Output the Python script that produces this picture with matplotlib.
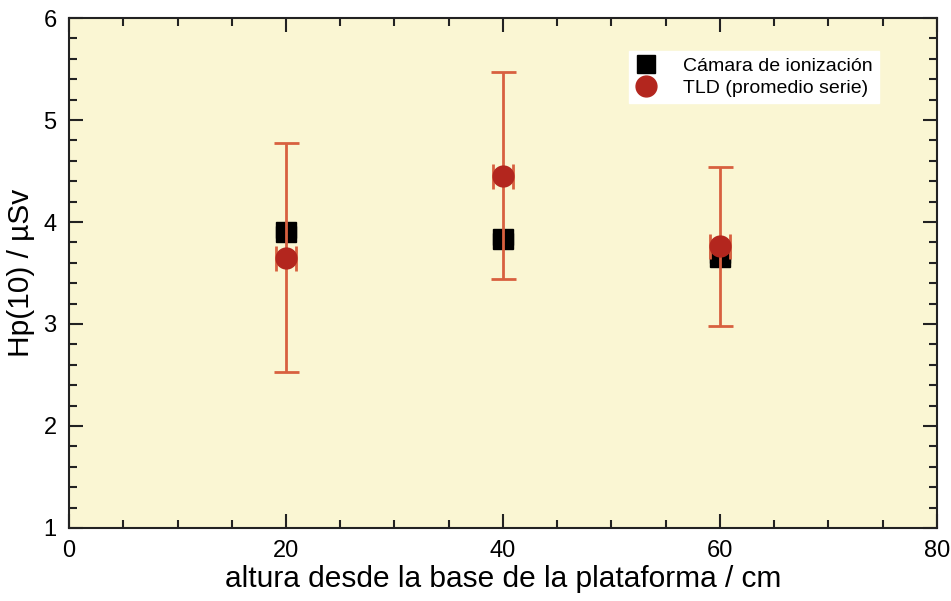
import matplotlib
matplotlib.use('Agg')
import matplotlib.pyplot as plt
from matplotlib.ticker import MultipleLocator
from matplotlib.lines import Line2D

# Daten
altura = [20, 40, 60]
camara = [3.90, 3.83, 3.66]
tld = [3.65, 4.45, 3.76]
tld_sup = [4.77, 5.47, 4.54]
tld_inf = [2.53, 3.44, 2.98]
x_err = [0.9, 0.9, 0.9]

plt.rcParams['font.family'] = ['Liberation Sans', 'DejaVu Sans']

fig = plt.figure(figsize=(9.51, 6.01), dpi=100)
ax = fig.add_axes([0.0726, 0.1215, 0.9124, 0.8485])
ax.set_facecolor('#FAF6D3')

err_color = '#D8603F'
tld_color = '#B3261E'
tld_err = [[t - lo for t, lo in zip(tld, tld_inf)],
           [hi - t for t, hi in zip(tld, tld_sup)]]

ax.errorbar(altura, camara, xerr=x_err, fmt='s', color='black', ms=14,
            ecolor='#333333', elinewidth=1, capsize=4, capthick=1, zorder=3)
ax.errorbar(altura, tld, yerr=tld_err, xerr=x_err, fmt='o', color=tld_color,
            ms=15, ecolor=err_color, elinewidth=2, capsize=9, capthick=2, zorder=4)

ax.set_xlim(0, 80)
ax.set_ylim(1, 6)
ax.xaxis.set_major_locator(MultipleLocator(20))
ax.xaxis.set_minor_locator(MultipleLocator(5))
ax.yaxis.set_major_locator(MultipleLocator(1))
ax.yaxis.set_minor_locator(MultipleLocator(0.2))
ax.tick_params(which='both', direction='in', top=True, right=True,
               color='#222222', labelsize=17, pad=9)
ax.tick_params(which='major', length=10, width=1.5)
ax.tick_params(which='minor', length=6, width=1.5)
for s in ax.spines.values():
    s.set_linewidth(1.5)
    s.set_color('#222222')

ax.set_xlabel('altura desde la base de la plataforma / cm', fontsize=21.5, labelpad=2)
ax.set_ylabel('Hp(10) / µSv', fontsize=21.5, labelpad=6)

# Legende nur mit Markern
handles = [
    Line2D([], [], ls='none', marker='s', ms=13, color='black'),
    Line2D([], [], ls='none', marker='o', ms=15, color=tld_color),
]
labels = ['Cámara de ionización', 'TLD (promedio serie)']
ax.legend(handles, labels, loc='upper right', bbox_to_anchor=(0.945, 0.955),
          fontsize=14, frameon=True, fancybox=False, framealpha=1,
          edgecolor='white', handletextpad=1.4, handlelength=1.0,
          borderpad=0.35, labelspacing=0.2)

fig.savefig('out.png', dpi=100)
